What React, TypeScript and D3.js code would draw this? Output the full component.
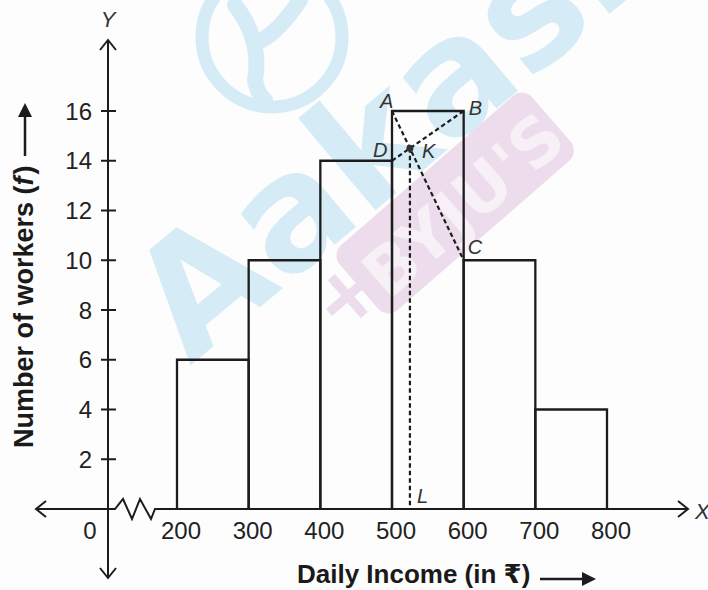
import React from "react";
import * as d3 from "d3";

const binStarts = [200, 300, 400, 500, 600, 700];
const binWidth = 100;
const frequencies = [6, 10, 14, 16, 10, 4];
const xTickValues = [200, 300, 400, 500, 600, 700, 800];
const yTickValues = [2, 4, 6, 8, 10, 12, 14, 16];
const xTitle = "Daily Income (in ₹)";
const yTitleMain = "Number of workers (";
const yTitleSymbol = "f";
// modal class construction points
const pointA = { x: 500, y: 16, label: "A" };
const pointB = { x: 600, y: 16, label: "B" };
const pointC = { x: 600, y: 10, label: "C" };
const pointD = { x: 500, y: 14, label: "D" };

const W = 708;
const H = 590;
const FONT = "'Liberation Sans', Arial, 'DejaVu Sans', sans-serif";

export default function App() {
  const x = d3.scaleLinear().domain([200, 800]).range([177, 607]);
  const y = d3.scaleLinear().domain([0, 16]).range([509, 111]);
  const ax = 108; // y-axis position (origin, with break)
  const ay = y(0);

  // intersection K of AC and BD
  const m1 = (pointC.y - pointA.y) / (pointC.x - pointA.x);
  const m2 = (pointB.y - pointD.y) / (pointB.x - pointD.x);
  const kx = (pointD.y - pointA.y + m1 * pointA.x - m2 * pointD.x) / (m1 - m2);
  const ky = pointA.y + m1 * (kx - pointA.x);

  const line = d3.line<[number, number]>();
  const zig = line([
    [ax, ay],
    [115, ay],
    [123, ay - 10],
    [132, ay + 10],
    [140, ay - 10],
    [151, ay + 10],
    [155, ay],
    [x(200), ay],
  ]);

  const stroke = "#1c1c1c";
  const dash = "4.5,3";
  const labelStyle = { fontFamily: FONT, fontSize: 20, fontStyle: "italic" as const, fill: "#333" };

  return (
    <svg width={W} height={H} style={{ position: "absolute", left: 0, top: 0, background: "#fff" }}>
      <rect x={0} y={0} width={W} height={H} fill="#fdfdfd" />
      {/* watermark */}
      <g opacity={0.85}>
        <circle cx={272} cy={37} r={70} fill="none" stroke="#cfeaf7" strokeWidth={13} />
        <path d="M235,5 Q262,40 255,80 M300,0 Q280,30 262,40 M255,80 Q258,95 265,100" fill="none" stroke="#cfeaf7" strokeWidth={16} strokeLinecap="round" />
        <text
          transform="translate(190,366) rotate(-40)"
          fontFamily="'DejaVu Sans', sans-serif"
          fontWeight="bold"
          fontSize={158}
          fill="#cfeaf7"
        >
          Aakash
        </text>
        <g transform="translate(326,322) rotate(-41)">
          <text x={0} y={20} fontFamily="'DejaVu Sans', sans-serif" fontWeight="bold" fontSize={80} fill="#ebd8ea">+</text>
          <rect x={48} y={-48} width={255} height={86} rx={14} fill="#ebd8ea" />
          <text x={60} y={25} fontFamily="'DejaVu Sans', sans-serif" fontWeight="bold" fontSize={66} fill="#f7eef6">BYJU'S</text>
        </g>
      </g>

      {/* bars */}
      {binStarts.map((s, i) => (
        <path
          key={s}
          d={`M${x(s)},${ay} V${y(frequencies[i])} H${x(s + binWidth)} V${ay}`}
          fill="none"
          stroke={stroke}
          strokeWidth={2.3}
        />
      ))}

      {/* axes */}
      <line x1={ax} y1={40} x2={ax} y2={578} stroke={stroke} strokeWidth={2} />
      <path d={`M${ax - 8},${50} L${ax},${40} L${ax + 8},${50}`} fill="none" stroke={stroke} strokeWidth={2} />
      <path d={`M${ax - 8},${568} L${ax},${578} L${ax + 8},${568}`} fill="none" stroke={stroke} strokeWidth={2} />
      <line x1={36} y1={ay} x2={ax} y2={ay} stroke={stroke} strokeWidth={2} />
      <path d={`M${46},${ay - 8} L${36},${ay} L${46},${ay + 8}`} fill="none" stroke={stroke} strokeWidth={2} />
      <path d={zig ?? ""} fill="none" stroke={stroke} strokeWidth={2} />
      <line x1={x(200)} y1={ay} x2={688} y2={ay} stroke={stroke} strokeWidth={2} />
      <path d={`M${678},${ay - 8} L${688},${ay} L${678},${ay + 8}`} fill="none" stroke={stroke} strokeWidth={2} />
      <text x={695} y={519} fontFamily={FONT} fontSize={22} fontStyle="italic" fill="#333">X</text>
      <text x={ax} y={27} textAnchor="middle" fontFamily={FONT} fontSize={22} fontStyle="italic" fill="#333">Y</text>

      {/* y ticks */}
      {yTickValues.map((v) => (
        <g key={v}>
          <line x1={ax - 7} x2={ax + 8} y1={y(v)} y2={y(v)} stroke={stroke} strokeWidth={2} />
          <text x={92} y={y(v)} dy="0.36em" textAnchor="end" fontFamily={FONT} fontSize={24} fill="#222">
            {v}
          </text>
        </g>
      ))}
      {/* x ticks */}
      <text x={90} y={539} textAnchor="middle" fontFamily={FONT} fontSize={24} fill="#222">0</text>
      {xTickValues.map((v) => (
        <text key={v} x={x(v) + 4} y={539} textAnchor="middle" fontFamily={FONT} fontSize={24} fill="#222">
          {v}
        </text>
      ))}

      {/* construction lines */}
      <line x1={x(pointA.x)} y1={y(pointA.y)} x2={x(pointC.x)} y2={y(pointC.y)} stroke={stroke} strokeWidth={2.2} strokeDasharray={dash} />
      <line x1={x(pointD.x)} y1={y(pointD.y)} x2={x(pointB.x)} y2={y(pointB.y)} stroke={stroke} strokeWidth={2.2} strokeDasharray={dash} />
      <line x1={x(kx)} y1={y(ky)} x2={x(kx)} y2={ay} stroke={stroke} strokeWidth={2.2} strokeDasharray={dash} />
      <circle cx={x(kx)} cy={y(ky)} r={3.5} fill="#333" />

      <text x={x(pointA.x) - 12} y={y(pointA.y) - 3} {...labelStyle}>A</text>
      <text x={x(pointB.x) + 5} y={y(pointB.y) + 4} {...labelStyle}>B</text>
      <text x={x(pointD.x) - 19} y={y(pointD.y) - 4} {...labelStyle}>D</text>
      <text x={x(kx) + 12} y={y(ky) + 10} {...labelStyle}>K</text>
      <text x={x(pointC.x) + 4} y={y(pointC.y) - 6} {...labelStyle}>C</text>
      <text x={x(kx) + 7} y={ay - 6} {...labelStyle}>L</text>

      {/* x title */}
      <text x={297} y={583} fontFamily={FONT} fontSize={26} fontWeight="bold" fill="#1a1a1a">{xTitle}</text>
      <line x1={540} y1={579} x2={584} y2={579} stroke={stroke} strokeWidth={2.5} />
      <path d="M582,572 L596,579 L582,586 Z" fill={stroke} />

      {/* y title */}
      <text transform="translate(33,448) rotate(-90)" fontFamily={FONT} fontSize={27} fontWeight="bold" fill="#1a1a1a">
        {yTitleMain}
        <tspan fontStyle="italic">{yTitleSymbol}</tspan>
        <tspan dx={2}>)</tspan>
      </text>
      <line x1={25} y1={156} x2={25} y2={116} stroke={stroke} strokeWidth={2.5} />
      <path d="M18,117 L25,103 L32,117 Z" fill={stroke} />
    </svg>
  );
}
